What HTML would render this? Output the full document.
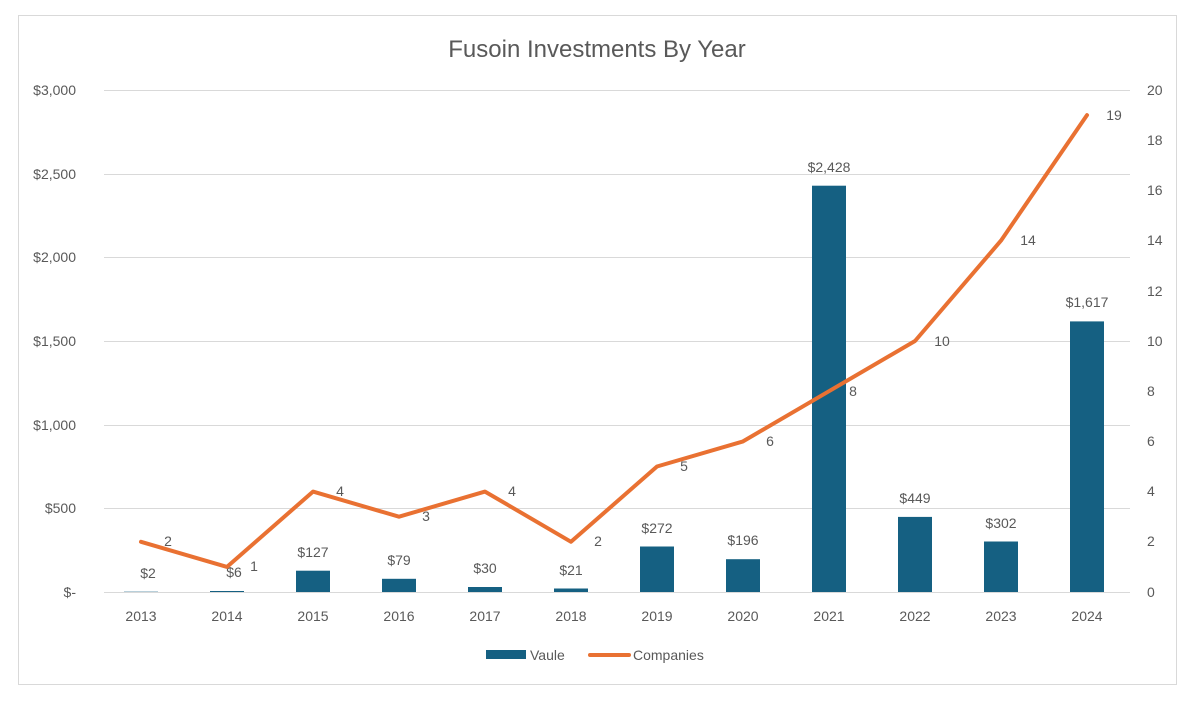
<!DOCTYPE html>
<html><head><meta charset="utf-8"><style>
body{margin:0;background:#fff;}
svg text{font-family:"Liberation Sans",sans-serif;fill:#595959;}
</style></head><body>
<svg width="1194" height="704" xmlns="http://www.w3.org/2000/svg">
<rect x="18.5" y="15.5" width="1158" height="669" fill="#fff" stroke="#d9d9d9"/>
<text x="597" y="57" font-size="24" text-anchor="middle">Fusoin Investments By Year</text>
<g stroke="#d9d9d9" stroke-width="1">
<line x1="104" x2="1130" y1="90.5" y2="90.5"/>
<line x1="104" x2="1130" y1="174.5" y2="174.5"/>
<line x1="104" x2="1130" y1="257.5" y2="257.5"/>
<line x1="104" x2="1130" y1="341.5" y2="341.5"/>
<line x1="104" x2="1130" y1="425.5" y2="425.5"/>
<line x1="104" x2="1130" y1="508.5" y2="508.5"/>
<line x1="104" x2="1130" y1="592.5" y2="592.5"/>
</g>
<g font-size="14" text-anchor="end">
<text x="76" y="95">$3,000</text><text x="76" y="179">$2,500</text><text x="76" y="262">$2,000</text>
<text x="76" y="346">$1,500</text><text x="76" y="430">$1,000</text><text x="76" y="513">$500</text><text x="76" y="597">$-</text>
</g>
<g font-size="14" text-anchor="start">
<text x="1147" y="95">20</text><text x="1147" y="145">18</text><text x="1147" y="195">16</text><text x="1147" y="245">14</text>
<text x="1147" y="296">12</text><text x="1147" y="346">10</text><text x="1147" y="396">8</text><text x="1147" y="446">6</text>
<text x="1147" y="496">4</text><text x="1147" y="546">2</text><text x="1147" y="597">0</text>
</g>
<g fill="#156082">
<rect x="124" y="591.7" width="34" height="0.3"/>
<rect x="210" y="591" width="34" height="1"/>
<rect x="296" y="570.7" width="34" height="21.3"/>
<rect x="382" y="578.8" width="34" height="13.2"/>
<rect x="468" y="587" width="34" height="5"/>
<rect x="554" y="588.5" width="34" height="3.5"/>
<rect x="640" y="546.5" width="34" height="45.5"/>
<rect x="726" y="559.2" width="34" height="32.8"/>
<rect x="812" y="185.7" width="34" height="406.3"/>
<rect x="898" y="516.9" width="34" height="75.1"/>
<rect x="984" y="541.5" width="34" height="50.5"/>
<rect x="1070" y="321.4" width="34" height="270.6"/>
</g>
<g font-size="14" text-anchor="middle">
<text x="148" y="578">$2</text><text x="234" y="577">$6</text><text x="313" y="557">$127</text>
<text x="399" y="565">$79</text><text x="485" y="573">$30</text><text x="571" y="575">$21</text>
<text x="657" y="533">$272</text><text x="743" y="545">$196</text><text x="829" y="172">$2,428</text>
<text x="915" y="503">$449</text><text x="1001" y="528">$302</text><text x="1087" y="307">$1,617</text>
</g>
<g font-size="14" text-anchor="middle"><text x="141" y="621">2013</text><text x="227" y="621">2014</text><text x="313" y="621">2015</text><text x="399" y="621">2016</text><text x="485" y="621">2017</text><text x="571" y="621">2018</text><text x="657" y="621">2019</text><text x="743" y="621">2020</text><text x="829" y="621">2021</text><text x="915" y="621">2022</text><text x="1001" y="621">2023</text><text x="1087" y="621">2024</text></g>
<polyline fill="none" stroke="#E97132" stroke-width="4" stroke-linejoin="round" stroke-linecap="round"
points="141,541.8 227,566.9 313,491.6 399,516.7 485,491.6 571,541.8 657,466.5 743,441.4 829,391.2 915,341 1001,240.6 1087,115.1"/>
<g font-size="14" text-anchor="middle">
<text x="168" y="546">2</text><text x="254" y="571">1</text><text x="340" y="496">4</text><text x="426" y="521">3</text>
<text x="512" y="496">4</text><text x="598" y="546">2</text><text x="684" y="471">5</text><text x="770" y="446">6</text>
<text x="853" y="396">8</text><text x="942" y="346">10</text><text x="1028" y="245">14</text><text x="1114" y="120">19</text>
</g>
<rect x="486" y="650" width="40" height="9" fill="#156082"/>
<text x="530" y="660" font-size="14">Vaule</text>
<line x1="590" x2="629" y1="655" y2="655" stroke="#E97132" stroke-width="4" stroke-linecap="round"/>
<text x="633" y="660" font-size="14">Companies</text>
</svg>
</body></html>
